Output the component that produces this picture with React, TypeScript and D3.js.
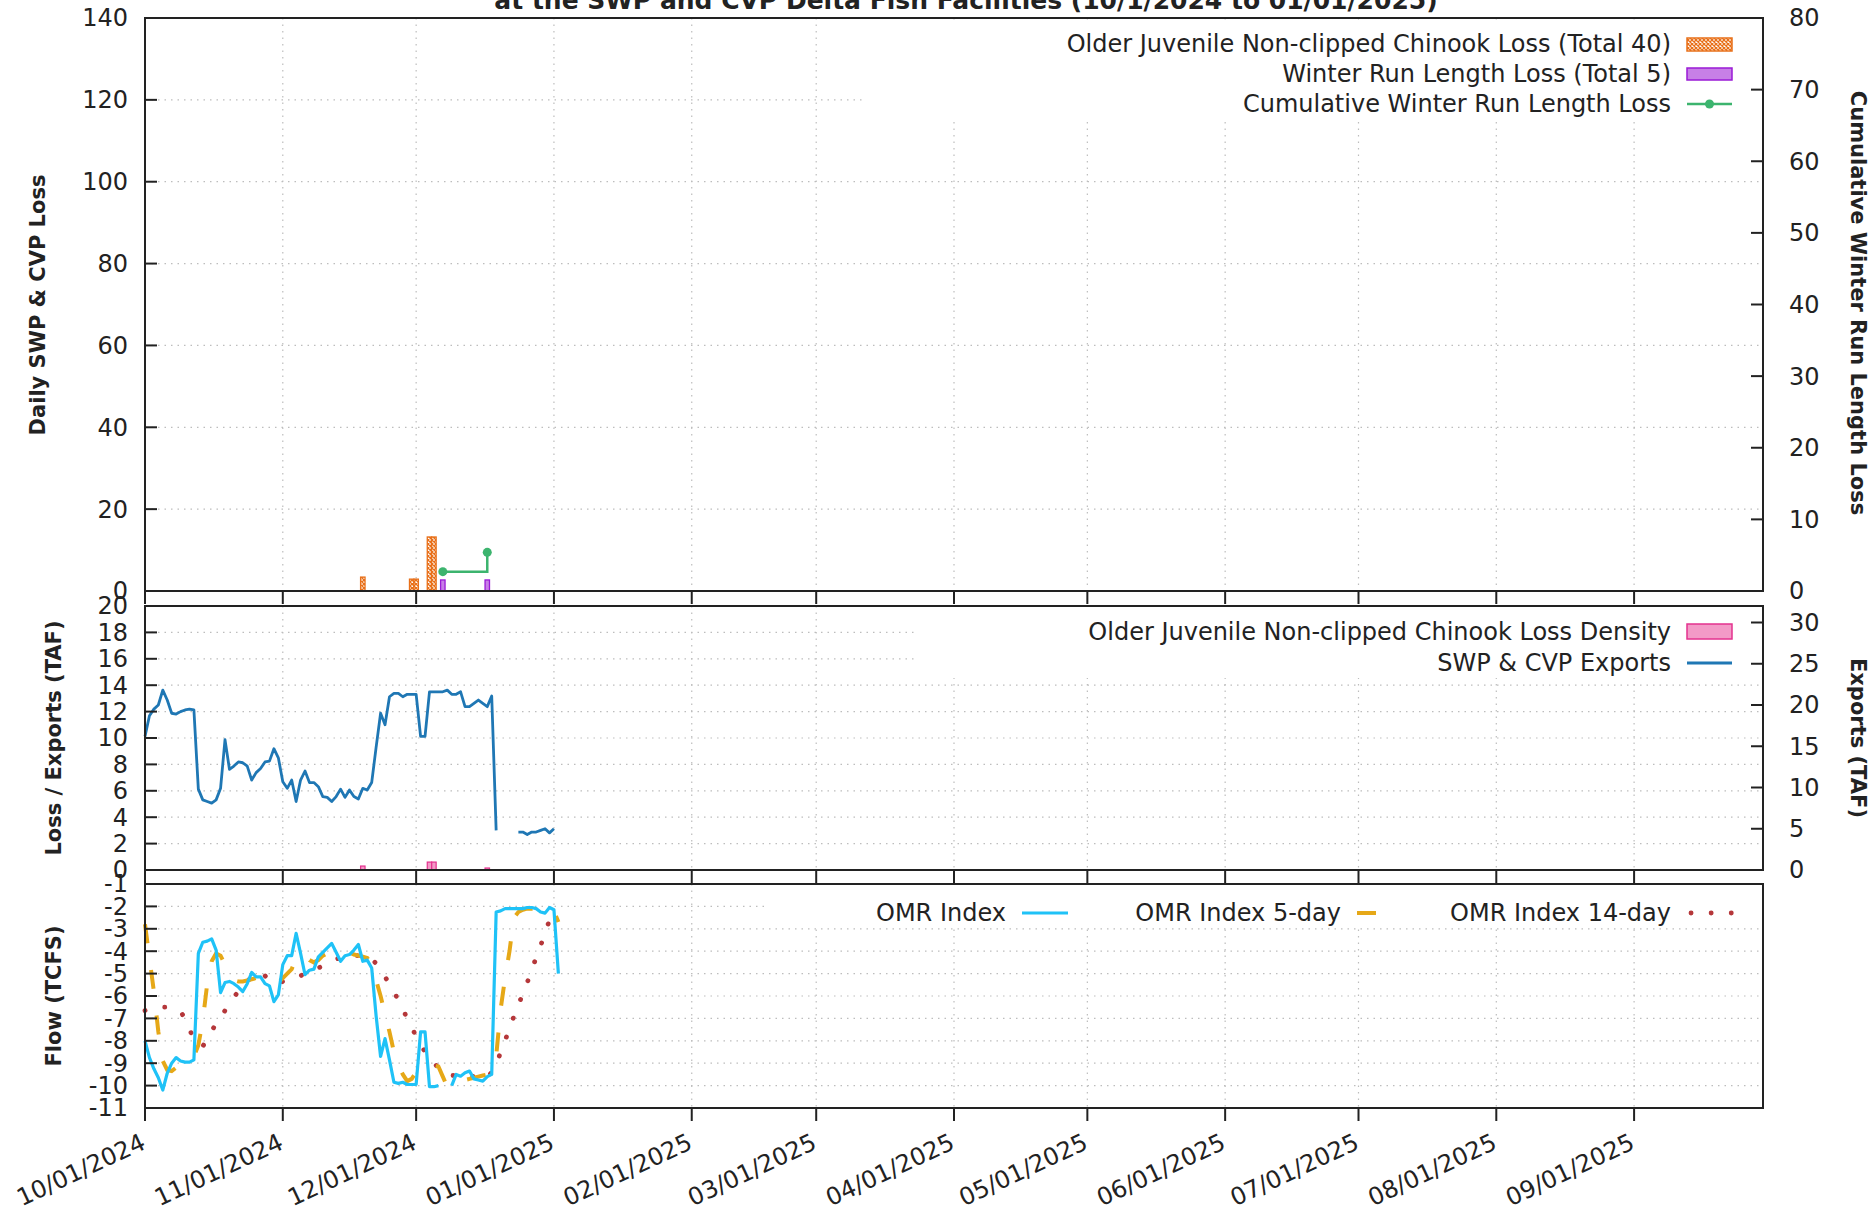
import { useEffect, useRef } from 'react'
import * as d3 from 'd3'

const W = 1876
const H = 1211

// daily series, first value is 10/01/2024
const SERIES_START = '2024-10-01'

// SWP & CVP exports (TAF)
const exportsTaf: (number | null)[] = [
  16.2, 18.7, 19.5, 20.0, 21.8, 20.6, 19.0, 18.9, 19.2, 19.4,
  19.5, 19.4, 9.8, 8.5, 8.3, 8.1, 8.5, 9.9, 15.8, 12.2,
  12.6, 13.1, 13.0, 12.6, 10.9, 11.8, 12.3, 13.1, 13.2, 14.7,
  13.6, 10.7, 9.9, 10.9, 8.3, 10.9, 12.0, 10.6, 10.6, 10.1,
  8.9, 8.8, 8.3, 8.9, 9.8, 8.8, 9.7, 8.9, 8.6, 9.9,
  9.7, 10.6, 14.9, 19.0, 17.6, 21.0, 21.4, 21.4, 21.0, 21.3,
  21.3, 21.3, 16.2, 16.2, 21.6, 21.6, 21.6, 21.6, 21.8, 21.3,
  21.3, 21.6, 19.8, 19.8, 20.2, 20.6, 20.2, 19.8, 21.1, 4.8,
  null, null, null, null, 4.6, 4.6, 4.3, 4.6, 4.6, 4.8,
  5.0, 4.5, 5.0
]

// OMR index (TCFS)
const omrIndex: (number | null)[] = [
  -8.0, -8.75, -9.25, -9.65, -10.2, -9.45, -9.0, -8.75, -8.9, -8.95,
  -8.95, -8.85, -4.1, -3.6, -3.55, -3.45, -3.95, -5.85, -5.4, -5.35,
  -5.45, -5.6, -5.8, -5.45, -4.95, -5.15, -5.15, -5.45, -5.55, -6.25,
  -5.95, -4.6, -4.2, -4.2, -3.2, -4.1, -5.05, -4.85, -4.8, -4.25,
  -4.05, -3.85, -3.65, -4.05, -4.45, -4.2, -4.15, -3.95, -3.7, -4.45,
  -4.4, -4.75, -6.9, -8.7, -7.9, -8.85, -9.85, -9.9, -9.85, -9.95,
  -9.95, -9.95, -7.6, -7.6, -10.05, -10.05, -10.0, null, null, -10.0,
  -9.5, -9.58, -9.43, -9.35, -9.7, -9.75, -9.8, -9.6, -9.5, -2.25,
  -2.2, -2.1, -2.1, -2.1, -2.1, -2.1, -2.05, -2.05, -2.1, -2.25,
  -2.3, -2.05, -2.15, -5.0
]

const omr5Day: (number | null)[] = [
  -2.8, -4.3, -5.8, -7.6, -8.9, -9.3, -9.35, -9.2, -9.1, -8.95,
  -8.9, -8.7, -8.2, -7.1, -5.45, -4.45, -4.1, -4.2, -4.6, -5.0,
  -5.3, -5.35, -5.35, -5.3, -5.25, -5.2, -5.3, -5.4, -5.45, -5.5,
  -5.4, -5.2, -5.0, -4.8, -4.3, -4.1, -4.2, -4.4, -4.5, -4.4,
  -4.2, -4.1, -4.0, -3.95, -3.95, -3.95, -4.05, -4.15, -4.2, -4.25,
  -4.3, -4.6, -5.3, -6.0, -6.8, -7.6, -8.5, -9.1, -9.5, -9.8,
  -9.7, -9.4, -9.15, -9.05, -9.05, -9.1, -9.15, -9.6, -10.05, -10.0,
  -9.9, -9.8, -9.75, -9.7, -9.65, -9.6, -9.55, -9.5, -9.2, -8.7,
  -6.6, -5.2, -4.0, -2.5, -2.25, -2.15, -2.1, -2.1, -2.1, -2.1,
  -2.15, -2.15, -2.2, -2.7
]

const omr14Day: (number | null)[] = [
  -6.65, -6.6, -6.55, -6.5, -6.5, -6.5, -6.55, -6.6, -6.7, -7.0,
  -7.5, -7.9, -8.15, -8.25, -7.9, -7.55, -7.25, -6.95, -6.65, -6.35,
  -6.05, -5.8, -5.55, -5.35, -5.15, -4.95, -4.95, -5.1, -5.3, -5.4,
  -5.45, -5.35, -5.3, -5.2, -5.15, -5.1, -5.0, -4.95, -4.85, -4.75,
  -4.65, -4.55, -4.45, -4.35, -4.3, -4.2, -4.2, -4.2, -4.2, -4.2,
  -4.2, -4.35, -4.55, -4.8, -5.15, -5.45, -5.8, -6.2, -6.6, -7.0,
  -7.4, -7.8, -8.15, -8.5, -8.75, -9.0, -9.2, -9.35, -9.5, -9.55,
  -9.55, -9.5, -9.5, -9.55, -9.6, -9.65, -9.7, -9.65, -9.4, -9.1,
  -8.5, -8.0, -7.45, -6.9, -6.4, -5.9, -5.4, -4.8, -4.3, -3.75,
  -3.2, -2.6, -2.3
]

// sparse daily losses
const chinookDates = ['2024-11-19', '2024-11-30', '2024-12-01', '2024-12-04', '2024-12-05']
const chinookLoss = [3.4, 2.9, 2.9, 13.2, 13.2]
const winterRunDates = ['2024-12-07', '2024-12-17']
const winterRunLoss = [2.7, 2.7]
const cumulativeWinterRun = [2.7, 5.4]
const densityDates = ['2024-11-19', '2024-12-04', '2024-12-05', '2024-12-17']
const lossDensity = [0.3, 0.6, 0.6, 0.15]

const topLeftTicks = [0, 20, 40, 60, 80, 100, 120, 140]
const topRightTicks = [0, 10, 20, 30, 40, 50, 60, 70, 80]
const midLeftTicks = [0, 2, 4, 6, 8, 10, 12, 14, 16, 18, 20]
const midRightTicks = [0, 5, 10, 15, 20, 25, 30]
const botLeftTicks = [-11, -10, -9, -8, -7, -6, -5, -4, -3, -2, -1]

const FONT = "'DejaVu Sans', sans-serif"
const ORANGE = '#e8701a'
const PURPLE = '#9a1ad6'
const GREEN = '#3cb46e'
const PINK = '#e4328f'
const BLUE = '#1f77b4'
const CYAN = '#1fc2f7'
const GOLD = '#e6a817'
const RED = '#b5373a'

export default function App() {
  const svgRef = useRef<SVGSVGElement>(null)

  useEffect(() => {
    if (!svgRef.current) return
    const svg = d3.select(svgRef.current)
    svg.selectAll('*').remove()

    const parse = d3.timeParse('%Y-%m-%d')
    const start = parse(SERIES_START)!
    const dayOf = (i: number) => d3.timeDay.offset(start, i)

    const left = 145
    const right = 1763
    const x = d3.scaleTime()
      .domain([parse('2024-10-01')!, parse('2025-09-30')!])
      .range([left, right])
    const months = d3.timeMonth.range(parse('2024-10-01')!, parse('2025-10-01')!)
    const dayW = x(parse('2024-10-02')!) - x(parse('2024-10-01')!)

    const panels = [
      { top: 18, bottom: 591 },
      { top: 606, bottom: 870 },
      { top: 884, bottom: 1108 },
    ]

    const yTop = d3.scaleLinear().domain([0, 140]).range([panels[0].bottom, panels[0].top])
    const yTopR = d3.scaleLinear().domain([0, 80]).range([panels[0].bottom, panels[0].top])
    const yMid = d3.scaleLinear().domain([0, 20]).range([panels[1].bottom, panels[1].top])
    const yMidR = d3.scaleLinear().domain([0, 32]).range([panels[1].bottom, panels[1].top])
    const yBot = d3.scaleLinear().domain([-11, -1]).range([panels[2].bottom, panels[2].top])

    svg.append('rect').attr('width', W).attr('height', H).attr('fill', '#fff')

    const defs = svg.append('defs')
    const pat = defs.append('pattern')
      .attr('id', 'xhatch')
      .attr('patternUnits', 'userSpaceOnUse')
      .attr('width', 4)
      .attr('height', 4)
    pat.append('rect').attr('width', 4).attr('height', 4).attr('fill', '#fff')
    pat.append('path').attr('d', 'M0,0L4,4M4,0L0,4').attr('stroke', ORANGE).attr('stroke-width', 1.3)

    const text = (g: d3.Selection<any, unknown, null, undefined>, tx: number, ty: number, s: string, opts: any = {}) =>
      g.append('text')
        .attr('x', tx)
        .attr('y', ty)
        .attr('dy', opts.dy ?? '0.35em')
        .attr('text-anchor', opts.anchor ?? 'start')
        .attr('font-family', FONT)
        .attr('font-size', opts.size ?? 24)
        .attr('font-weight', opts.bold ? 'bold' : 'normal')
        .attr('fill', '#222')
        .attr('transform', opts.rotate != null ? `rotate(${opts.rotate},${tx},${ty})` : null)
        .text(s)

    // grid
    const grid = svg.append('g')
      .attr('stroke', '#bdbdbd')
      .attr('stroke-width', 1.2)
      .attr('stroke-dasharray', '1.5,5')
    const yScales = [yTop, yMid, yBot]
    const yTicks = [topLeftTicks, midLeftTicks, botLeftTicks]
    panels.forEach((p, i) => {
      months.slice(1).forEach(m => {
        grid.append('line').attr('x1', x(m)).attr('x2', x(m)).attr('y1', p.top).attr('y2', p.bottom)
      })
      yTicks[i].slice(1, -1).forEach(v => {
        const yy = yScales[i](v)
        grid.append('line').attr('x1', left).attr('x2', right).attr('y1', yy).attr('y2', yy)
      })
    })

    // opaque key boxes
    const keyBoxes = [
      { x0: 863, y0: 24, y1: 118 },
      { x0: 915, y0: 607, y1: 678 },
      { x0: 764, y0: 885, y1: 925 },
    ]
    keyBoxes.forEach(k => {
      svg.append('rect')
        .attr('x', k.x0).attr('y', k.y0)
        .attr('width', right - 1 - k.x0).attr('height', k.y1 - k.y0)
        .attr('fill', '#fff')
    })

    // top panel bars
    const g1 = svg.append('g')
    chinookDates.forEach((d, i) => {
      const cx = x(parse(d)!)
      g1.append('rect')
        .attr('x', cx - dayW / 2)
        .attr('y', yTop(chinookLoss[i]))
        .attr('width', dayW)
        .attr('height', yTop(0) - yTop(chinookLoss[i]))
        .attr('fill', 'url(#xhatch)')
        .attr('stroke', ORANGE)
        .attr('stroke-width', 1.3)
    })
    winterRunDates.forEach((d, i) => {
      const cx = x(parse(d)!)
      g1.append('rect')
        .attr('x', cx - dayW / 2)
        .attr('y', yTop(winterRunLoss[i]))
        .attr('width', dayW)
        .attr('height', yTop(0) - yTop(winterRunLoss[i]))
        .attr('fill', '#c77fe6')
        .attr('stroke', PURPLE)
        .attr('stroke-width', 1.3)
    })
    const cumPts = winterRunDates.map((d, i) => [x(parse(d)!), yTopR(cumulativeWinterRun[i])] as [number, number])
    g1.append('path')
      .attr('d', d3.line().curve(d3.curveStepAfter)(cumPts))
      .attr('fill', 'none')
      .attr('stroke', GREEN)
      .attr('stroke-width', 2.5)
    cumPts.forEach(p => {
      g1.append('circle').attr('cx', p[0]).attr('cy', p[1]).attr('r', 4.5).attr('fill', GREEN)
    })

    // middle panel
    const g2 = svg.append('g')
    densityDates.forEach((d, i) => {
      const cx = x(parse(d)!)
      g2.append('rect')
        .attr('x', cx - dayW / 2)
        .attr('y', yMid(lossDensity[i]))
        .attr('width', dayW)
        .attr('height', yMid(0) - yMid(lossDensity[i]))
        .attr('fill', '#f39ac7')
        .attr('stroke', PINK)
        .attr('stroke-width', 1.2)
    })
    const lineOf = (yS: d3.ScaleLinear<number, number>) =>
      d3.line<number | null>()
        .defined(v => v != null)
        .x((_, i) => x(dayOf(i)))
        .y(v => yS(v as number))
    g2.append('path')
      .attr('d', lineOf(yMidR)(exportsTaf))
      .attr('fill', 'none')
      .attr('stroke', BLUE)
      .attr('stroke-width', 2.8)
      .attr('stroke-linejoin', 'round')

    // bottom panel
    const g3 = svg.append('g')
    g3.append('path')
      .attr('d', lineOf(yBot)(omr14Day))
      .attr('fill', 'none')
      .attr('stroke', RED)
      .attr('stroke-width', 4.8)
      .attr('stroke-linecap', 'round')
      .attr('stroke-dasharray', '0.1,20')
    g3.append('path')
      .attr('d', lineOf(yBot)(omr5Day))
      .attr('fill', 'none')
      .attr('stroke', GOLD)
      .attr('stroke-width', 4)
      .attr('stroke-dasharray', '19,27')
    g3.append('path')
      .attr('d', lineOf(yBot)(omrIndex))
      .attr('fill', 'none')
      .attr('stroke', CYAN)
      .attr('stroke-width', 3.2)
      .attr('stroke-linejoin', 'round')

    // frames, ticks
    const axes = svg.append('g')
    panels.forEach(p => {
      axes.append('rect')
        .attr('x', left).attr('y', p.top)
        .attr('width', right - left).attr('height', p.bottom - p.top)
        .attr('fill', 'none').attr('stroke', '#222').attr('stroke-width', 2)
      months.forEach(m => {
        axes.append('line')
          .attr('x1', x(m)).attr('x2', x(m))
          .attr('y1', p.bottom).attr('y2', p.bottom + 13)
          .attr('stroke', '#222').attr('stroke-width', 2)
      })
    })
    const leftAxis = (yS: d3.ScaleLinear<number, number>, ticks: number[]) => {
      ticks.forEach(v => {
        axes.append('line')
          .attr('x1', left).attr('x2', left + 12)
          .attr('y1', yS(v)).attr('y2', yS(v))
          .attr('stroke', '#222').attr('stroke-width', 2)
        text(axes, 128, yS(v), String(v), { anchor: 'end' })
      })
    }
    const rightAxis = (yS: d3.ScaleLinear<number, number>, ticks: number[]) => {
      ticks.forEach(v => {
        axes.append('line')
          .attr('x1', right - 12).attr('x2', right)
          .attr('y1', yS(v)).attr('y2', yS(v))
          .attr('stroke', '#222').attr('stroke-width', 2)
        text(axes, 1789, yS(v), String(v))
      })
    }
    leftAxis(yTop, topLeftTicks)
    rightAxis(yTopR, topRightTicks)
    leftAxis(yMid, midLeftTicks)
    rightAxis(yMidR, midRightTicks)
    leftAxis(yBot, botLeftTicks)

    const fmt = d3.timeFormat('%m/%d/%Y')
    months.forEach(m => {
      text(axes, x(m) + 2, 1148, fmt(m), { anchor: 'end', dy: '0', rotate: -25 })
    })

    // titles (first title line sits above the page edge)
    text(svg, 966, 9, 'at the SWP and CVP Delta Fish Facilities (10/1/2024 to 01/01/2025)', { anchor: 'middle', dy: '0', bold: true, size: 25 })
    text(svg, 38, 305, 'Daily SWP & CVP Loss', { anchor: 'middle', bold: true, size: 21, rotate: -90 })
    text(svg, 54, 738, 'Loss / Exports (TAF)', { anchor: 'middle', bold: true, size: 21, rotate: -90 })
    text(svg, 54, 996, 'Flow (TCFS)', { anchor: 'middle', bold: true, size: 21, rotate: -90 })
    text(svg, 1858, 303, 'Cumulative Winter Run Length Loss', { anchor: 'middle', bold: true, size: 21, rotate: 90 })
    text(svg, 1858, 738, 'Exports (TAF)', { anchor: 'middle', bold: true, size: 21, rotate: 90 })

    // keys
    const key = svg.append('g')
    const sx0 = 1687
    const sx1 = 1732
    text(key, 1671, 44, 'Older Juvenile Non-clipped Chinook Loss (Total 40)', { anchor: 'end' })
    key.append('rect').attr('x', sx0).attr('y', 38).attr('width', sx1 - sx0).attr('height', 13)
      .attr('fill', 'url(#xhatch)').attr('stroke', ORANGE).attr('stroke-width', 1.5)
    text(key, 1671, 74, 'Winter Run Length Loss (Total 5)', { anchor: 'end' })
    key.append('rect').attr('x', sx0).attr('y', 68).attr('width', sx1 - sx0).attr('height', 12)
      .attr('fill', '#c77fe6').attr('stroke', PURPLE).attr('stroke-width', 1.5)
    text(key, 1671, 104, 'Cumulative Winter Run Length Loss', { anchor: 'end' })
    key.append('line').attr('x1', sx0).attr('x2', sx1).attr('y1', 104).attr('y2', 104)
      .attr('stroke', GREEN).attr('stroke-width', 2.5)
    key.append('circle').attr('cx', (sx0 + sx1) / 2).attr('cy', 104).attr('r', 4.5).attr('fill', GREEN)

    text(key, 1671, 632, 'Older Juvenile Non-clipped Chinook Loss Density', { anchor: 'end' })
    key.append('rect').attr('x', sx0).attr('y', 624).attr('width', sx1 - sx0).attr('height', 15)
      .attr('fill', '#f39ac7').attr('stroke', PINK).attr('stroke-width', 1.5)
    text(key, 1671, 663, 'SWP & CVP Exports', { anchor: 'end' })
    key.append('line').attr('x1', sx0).attr('x2', sx1).attr('y1', 663).attr('y2', 663)
      .attr('stroke', BLUE).attr('stroke-width', 2.8)

    const omrKeys = [
      { label: 'OMR Index', end: 1006, color: CYAN, width: 3.2, dash: null, cap: 'butt' },
      { label: 'OMR Index 5-day', end: 1341, color: GOLD, width: 4, dash: '19,27', cap: 'butt' },
      { label: 'OMR Index 14-day', end: 1671, color: RED, width: 4.8, dash: '0.1,20', cap: 'round' },
    ]
    omrKeys.forEach(k => {
      text(key, k.end, 913, k.label, { anchor: 'end' })
      key.append('line')
        .attr('x1', k.end + 16 + (k.cap === 'round' ? 4 : 0)).attr('x2', k.end + 62)
        .attr('y1', 913).attr('y2', 913)
        .attr('stroke', k.color).attr('stroke-width', k.width)
        .attr('stroke-linecap', k.cap)
        .attr('stroke-dasharray', k.dash)
    })
  }, [])

  return (
    <svg
      ref={svgRef}
      width={W}
      height={H}
      style={{ position: 'absolute', left: 0, top: 0, display: 'block' }}
    />
  )
}
